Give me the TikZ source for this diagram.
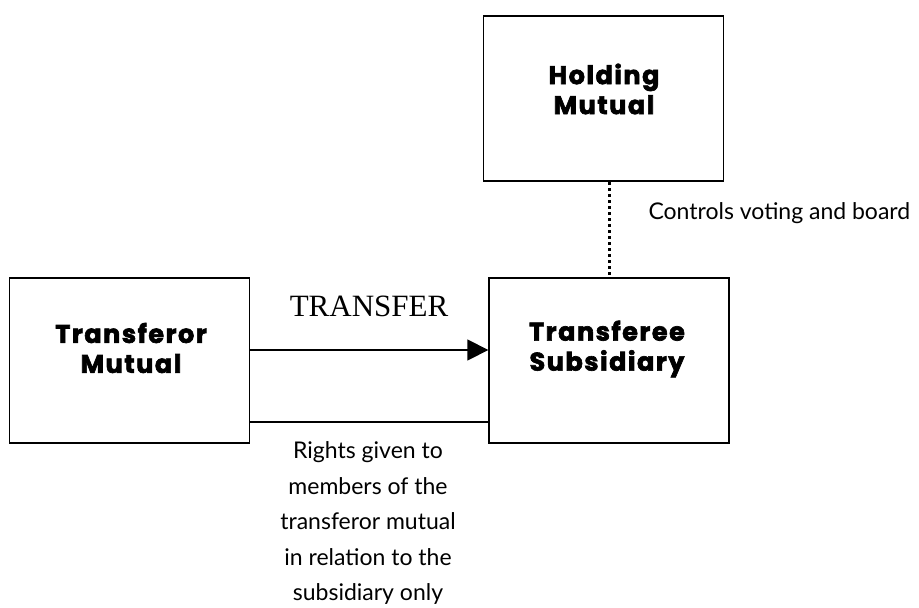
\documentclass[tikz,border=0pt]{standalone}
\usepackage{fontspec}
\setmainfont{Liberation Serif}
\newfontfamily\labelfont{Lato}
\newfontfamily\titlefont[BoldFeatures={FakeBold=2.5}, LetterSpace=6]{Poppins}
\usetikzlibrary{arrows.meta}
\begin{document}
\begin{tikzpicture}[x=1pt,y=-1pt,
  boxstyle/.style={draw, line width=1.3pt, minimum width=240pt, minimum height=165pt, inner sep=0pt},
  titlestyle/.style={font=\titlefont\bfseries\fontsize{25.5}{30}\selectfont, align=center},
  conn/.style={line width=1.3pt},
  labelstyle/.style={font=\labelfont\fontsize{23}{35.6}\selectfont, align=center}]
\useasboundingbox (0,0) rectangle (919,608);
\node[boxstyle] (hold) at (603.5,98.5) {};
\node[boxstyle] (tfor) at (129.5,360.5) {};
\node[boxstyle] (tee) at (609,360.5) {};
\node[titlestyle] (holdt) at (604,89) {Holding\\Mutual};
\node[titlestyle] (tfort) at (131,348) {Transferor\\Mutual};
\node[titlestyle] (teet) at (607,349) {Transferee\\Subsidiary};
\coordinate (dtop) at (609,182);
\coordinate (dbot) at (609,275);
\draw[line width=3pt, dash pattern=on 3pt off 3pt] (dtop) -- (dbot);
\node[labelstyle, anchor=west] (ctrl) at (645,213) {Controls voting and board};
\draw[conn, -{Triangle[length=21pt,width=21pt]}] (tfor.east |- 0,350) -- (tee.west |- 0,350);
\node[font=\fontsize{31}{34}\selectfont] (trans) at (369,306) {TRANSFER};
\draw[conn] (tfor.east |- 0,422) -- (tee.west |- 0,422);
\node[labelstyle, anchor=north] (rights) at (368,438) {Rights given to\\members of the\\transferor mutual\\in relation to the\\subsidiary only};
\end{tikzpicture}
\end{document}
